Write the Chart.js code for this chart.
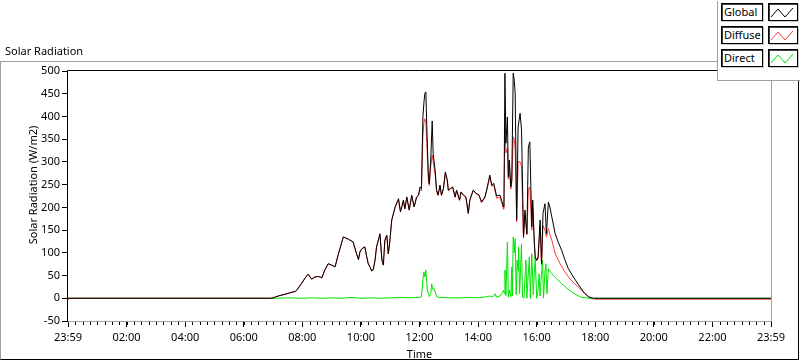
<!DOCTYPE html>
<html>
<head>
<meta charset="utf-8">
<script src="https://cdn.jsdelivr.net/npm/chart.js@4/dist/chart.umd.min.js"></script>
<style>
  html, body { margin:0; padding:0; background:#fff; }
  #wrap { position:relative; width:800px; height:361px; overflow:hidden; font-family:"Noto Sans", sans-serif; }
  canvas { position:absolute; left:0; top:0; }
  .frame { position:absolute; left:0; top:61px; width:799px; height:299px; box-sizing:border-box;
           border-top:1px solid #a0a0a0; border-left:1px solid #a0a0a0; border-right:1px solid #000; border-bottom:1px solid #000; pointer-events:none; }
  .title { position:absolute; left:5px; top:43px; font-size:11px; line-height:15px; color:#000; }
  .ytitle { position:absolute; left:32px; top:185px; font-size:11px; line-height:13px; color:#000; white-space:nowrap;
            transform:translate(-50%,-50%) rotate(-90deg); }
  .legend { position:absolute; left:717px; top:1px; width:83px; height:80px; background:#fff; box-sizing:border-box;
            border-left:1px solid #a0a0a0; border-bottom:1px solid #a0a0a0; }
  .lbl { position:absolute; left:3px; width:42px; height:18px; box-sizing:border-box; border:1px solid #000;
         box-shadow: inset 1px 1px 0 #404040, 1px 1px 0 #c8c8c8; font-size:11px; line-height:16px; padding-left:2px; background:#fff; color:#000; }
  .ico { position:absolute; left:50px; width:30px; height:18px; box-sizing:border-box; border:1px solid #000;
         box-shadow: inset 1px 1px 0 #404040, 1px 1px 0 #c8c8c8; background:#fff; }
  .ico svg { position:absolute; left:0; top:0; }
</style>
</head>
<body>
<div id="wrap">
  <canvas id="c" width="800" height="361"></canvas>
  <div class="frame"></div>
  <div class="title">Solar Radiation</div>
  <div class="ytitle">Solar Radiation (W/m2)</div>
  <div class="legend" id="legend"></div>
</div>
<script>
// ---------- DATA (minutes after 23:59 of previous day) ----------
const globalTimes  = [0,415,420,425,434,445,455,461,466,470,478,486,492,499,506,513,520,526,533,540,547,554,564,574,584,591,595,598,602,608,612,615,619,622,625,629,632,639,643,646,649,653,656,658,660,663,670,677,681,687,690,694,699,704,709,714,718,721,724,727,729,731,733,735,738,740,743,746,748,752,755,758,762,765,769,773,777,779,784,788,793,796,802,805,810,815,820,823,830,836,842,847,854,859,864,868,872,878,885,888,892,893,895,897,900,902,904,907,909,912,914,916,919,922,926,929,933,936,940,943,946,950,952,955,957,960,963,967,970,973,977,980,984,987,991,998,1004,1011,1018,1025,1035,1045,1056,1066,1076,1440];
const globalValues = [0,0,1,3,6,9,12,14,15,20,32,45,53,42,47,48,45,62,76,73,69,98,135,130,124,98,85,102,109,113,91,76,68,60,62,84,113,142,84,73,128,139,98,113,135,172,201,219,190,216,197,223,194,227,201,223,227,245,241,400,430,451,454,377,275,252,304,390,318,282,238,227,249,227,242,278,260,238,242,245,223,238,216,234,227,223,187,216,238,231,227,212,223,245,271,249,253,225,227,216,201,212,495,341,399,267,304,245,260,495,480,451,172,377,407,370,135,194,142,333,344,157,216,128,91,84,91,172,76,187,208,142,212,201,179,142,124,106,84,65,47,31,14,3,0,0];

const diffuseTimes  = [0,2,415,420,425,434,445,455,461,466,470,478,486,492,499,506,513,520,526,533,540,547,554,564,574,584,591,595,598,602,608,612,615,619,622,625,629,632,639,643,646,649,653,656,658,660,663,670,677,681,687,690,694,699,704,709,714,718,721,724,727,729,731,733,735,738,740,743,746,748,752,755,758,762,765,769,773,777,779,784,788,793,796,802,805,810,815,820,823,830,836,842,847,854,859,864,868,872,878,885,888,892,893,895,897,900,902,904,907,909,912,914,916,919,922,926,929,933,936,940,943,946,950,952,955,957,960,963,967,970,973,977,980,984,987,991,998,1008,1018,1028,1038,1049,1059,1069,1076,1080,1440];
const diffuseValues = [-2,0,0,1,3,6,9,12,14,15,20,32,45,53,42,47,48,45,62,76,73,69,98,135,130,124,98,85,102,109,113,91,76,68,60,62,84,113,140,84,73,126,137,98,113,133,170,200,217,190,214,197,221,194,225,201,221,225,240,236,360,385,395,390,340,262,248,290,315,300,272,236,226,247,226,240,275,258,237,241,244,222,237,215,233,226,222,186,215,237,230,226,210,221,243,268,246,250,220,222,212,196,205,374,320,330,262,290,240,255,355,350,330,168,300,300,290,132,185,140,240,245,150,200,125,90,82,88,160,74,160,150,135,153,140,128,98,76,58,43,32,21,10,2,0,-2,-2];

const directTimes  = [0,420,430,450,480,500,520,540,560,580,600,620,640,660,680,700,720,724,727,729,731,733,736,740,743,745,747,750,755,760,780,800,820,840,850,860,864,870,875,878,885,890,892,894,895,897,900,902,904,907,909,910,912,914,916,918,920,922,923,925,929,931,934,938,940,942,945,947,950,953,957,960,963,965,967,969,972,974,977,979,981,984,987,991,1001,1011,1021,1032,1042,1052,1069,1075,1080,1440];
const directValues = [0,0,0,1,0,1,0,1,0,2,0,1,0,1,2,1,2,3,40,58,47,62,18,4,10,32,20,21,4,2,1,1,2,1,2,4,5,3,10,2,5,12,18,10,62,6,124,2,18,4,69,5,135,100,131,8,84,60,113,10,120,3,0,84,0,40,91,0,98,8,91,0,20,54,5,40,84,0,60,76,10,65,60,54,43,32,23,14,7,2,0,-1,0,0];

const xTickValues = [0,120,240,360,480,600,720,840,960,1080,1200,1320,1440];
const xTickLabels = ['23:59','02:00','04:00','06:00','08:00','10:00','12:00','14:00','16:00','18:00','20:00','22:00','23:59'];

const seriesNames  = ['Global','Diffuse','Direct'];
const seriesColors = ['#000000','#ff3c3c','#00e600'];

// ---------- BUILD ----------
const toXY = (ts, vs) => ts.map((t, i) => ({x: t, y: vs[i]}));
const FONT = {family: '"Noto Sans", sans-serif', size: 11};

const framePlugin = {
  id: 'plotFrame',
  afterDraw(chart) {
    const {ctx, chartArea: a, scales: {x}} = chart;
    ctx.save();
    ctx.lineWidth = 1;
    ctx.strokeStyle = '#a0a0a0';
    ctx.beginPath();
    ctx.moveTo(Math.round(a.right) + 0.5, a.top);
    ctx.lineTo(Math.round(a.right) + 0.5, Math.round(a.bottom) + 0.5);
    ctx.lineTo(a.left, Math.round(a.bottom) + 0.5);
    ctx.stroke();
    ctx.strokeStyle = '#000';
    ctx.beginPath();
    ctx.moveTo(Math.round(a.left) - 0.5, Math.round(a.bottom) + 1);
    ctx.lineTo(Math.round(a.left) - 0.5, Math.round(a.top) - 0.5);
    ctx.lineTo(Math.round(a.right) + 1, Math.round(a.top) - 0.5);
    ctx.stroke();
    // minor ticks every 15 minutes
    ctx.beginPath();
    for (let v = x.min; v <= x.max; v += 15) {
      const px = Math.round(x.getPixelForValue(v)) + 0.5;
      ctx.moveTo(px, Math.round(a.bottom) + 1);
      ctx.lineTo(px, Math.round(a.bottom) + 4);
    }
    ctx.stroke();
    ctx.restore();
  }
};

new Chart(document.getElementById('c'), {
  type: 'line',
  data: {
    datasets: [
      {label: seriesNames[0], data: toXY(globalTimes, globalValues), borderColor: seriesColors[0]},
      {label: seriesNames[1], data: toXY(diffuseTimes, diffuseValues), borderColor: seriesColors[1]},
      {label: seriesNames[2], data: toXY(directTimes, directValues), borderColor: seriesColors[2]}
    ]
  },
  options: {
    responsive: false,
    animation: false,
    devicePixelRatio: 1,
    layout: {padding: {left: 0, top: 71, right: 29, bottom: 0}},
    plugins: {legend: {display: false}, tooltip: {enabled: false}},
    elements: {point: {radius: 0}, line: {borderWidth: 1, tension: 0, fill: false}},
    scales: {
      x: {
        type: 'linear', min: 0, max: 1440,
        afterFit(s) { s.height = 40; },
        afterBuildTicks(s) { s.ticks = xTickValues.map(v => ({value: v})); },
        ticks: {autoSkip: false, maxRotation: 0, padding: 4, color: '#000', font: FONT,
                callback: (v, i) => xTickLabels[i]},
        grid: {drawOnChartArea: false, drawTicks: true, tickLength: 6, color: '#000'},
        border: {display: false},
        title: {display: true, text: 'Time', color: '#000', font: FONT, padding: {top: 0, bottom: 0}}
      },
      y: {
        min: -50, max: 500,
        afterFit(s) { s.width = 68; },
        ticks: {stepSize: 50, color: '#000', padding: 2, font: FONT},
        grid: {drawOnChartArea: false, drawTicks: true, tickLength: 6, color: '#000'},
        border: {display: false}
      }
    }
  },
  plugins: [framePlugin]
});

// ---------- LEGEND ----------
const legend = document.getElementById('legend');
seriesNames.forEach((name, i) => {
  const top = 2 + i * 23;
  const l = document.createElement('div');
  l.className = 'lbl'; l.style.top = top + 'px'; l.textContent = name;
  legend.appendChild(l);
  const ic = document.createElement('div');
  ic.className = 'ico'; ic.style.top = top + 'px';
  ic.innerHTML = '<svg width="28" height="16"><polyline points="2,13 9,5 16,13 24,4" fill="none" stroke="' + seriesColors[i] + '" stroke-width="1"/></svg>';
  legend.appendChild(ic);
});
</script>
</body>
</html>
